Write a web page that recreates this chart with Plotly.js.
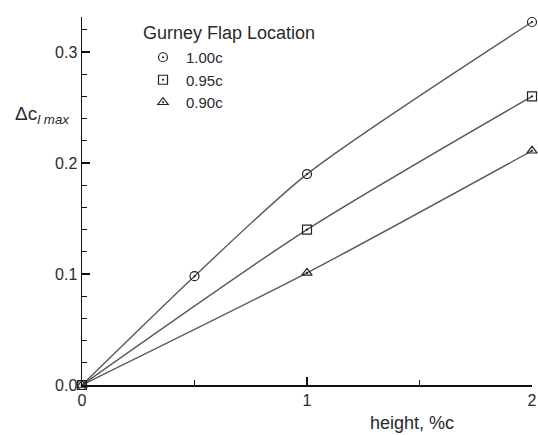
<!DOCTYPE html>
<html><head><meta charset="utf-8">
<script src="https://cdn.plot.ly/plotly-3.0.1.min.js"></script>
<style>html,body{margin:0;padding:0;background:#fff}#chart{width:538px;height:435px}</style>
</head><body><div id="chart"></div>
<script>
const heights = [0, 0.5, 1, 2];
const heights2 = [0, 1, 2];
const loc100 = [0, 0.098, 0.190, 0.327];
const loc095 = [0, 0.140, 0.260];
const loc090 = [0, 0.101, 0.211];
const seriesNames = ['1.00c', '0.95c', '0.90c'];
const symbols = ['circle-open-dot', 'square-open-dot', 'triangle-up-open-dot'];

const lineColor = '#555a5b';
const font = 'Liberation Sans, Arial, sans-serif';
const xs = [heights, heights2, heights2];
const ys = [loc100, loc095, loc090];
const traces = [];
for (let i = 0; i < 3; i++) {
  traces.push({x: xs[i], y: ys[i], mode: 'lines', type: 'scatter', showlegend: false,
    line: {color: lineColor, width: 1.4, shape: 'spline', smoothing: 0.7}, cliponaxis: false, hoverinfo: 'skip'});
}
for (let i = 0; i < 3; i++) {
  traces.push({x: xs[i], y: ys[i], mode: 'markers', type: 'scatter', name: seriesNames[i],
    marker: {symbol: symbols[i], size: 9, color: '#222', line: {color: '#222', width: 1.2}}, cliponaxis: false});
}
const layout = {
  width: 538, height: 435,
  margin: {l: 82, r: 6, t: 17, b: 50},
  paper_bgcolor: '#fff', plot_bgcolor: '#fff',
  font: {family: font, size: 16, color: '#2a2a2a'},
  showlegend: true,
  legend: {x: (140-82)/450, y: (385-41)/368, xanchor: 'left', yanchor: 'top', bgcolor: 'rgba(0,0,0,0)',
    font: {size: 15, color: '#2a2a2a'}, tracegroupgap: 0, itemwidth: 36},
  xaxis: {range: [0, 2], dtick: 1, tick0: 0, ticks: 'inside', ticklen: 8, tickwidth: 1.2, tickcolor: '#111',
    showline: true, linecolor: '#111', linewidth: 1.5, showgrid: false, zeroline: false,
    minor: {dtick: 0.5, ticks: 'inside', ticklen: 5, tickcolor: '#111', tickwidth: 1.2, showgrid: false},
    tickfont: {size: 16, color: '#2a2a2a'}},
  yaxis: {range: [0, 0.3315], dtick: 0.1, tick0: 0, tickformat: '.1f', ticks: 'inside', ticklen: 8, tickwidth: 1.2, tickcolor: '#111',
    showline: true, linecolor: '#111', linewidth: 1.5, showgrid: false, zeroline: false,
    minor: {dtick: 0.02, ticks: 'inside', ticklen: 5, tickcolor: '#111', tickwidth: 1.2, showgrid: false},
    tickfont: {size: 16, color: '#2a2a2a'}},
  annotations: [
    {text: 'Gurney Flap Location', xref: 'paper', yref: 'paper', x: (229-82)/450, y: (385-33)/368,
      xanchor: 'center', yanchor: 'middle', showarrow: false, font: {size: 18, color: '#2a2a2a'}},
    {text: 'Δc<sub><i>l max</i></sub>', xref: 'paper', yref: 'paper', x: (42-82)/450, y: (385-115)/368,
      xanchor: 'center', yanchor: 'middle', showarrow: false, font: {size: 19, color: '#2a2a2a'}},
    {text: 'height, %c', xref: 'paper', yref: 'paper', x: (412-82)/450, y: (385-423)/368,
      xanchor: 'center', yanchor: 'middle', showarrow: false, font: {size: 18, color: '#2a2a2a'}}
  ]
};
Plotly.newPlot('chart', traces, layout, {displayModeBar: false, staticPlot: true});
</script></body></html>
